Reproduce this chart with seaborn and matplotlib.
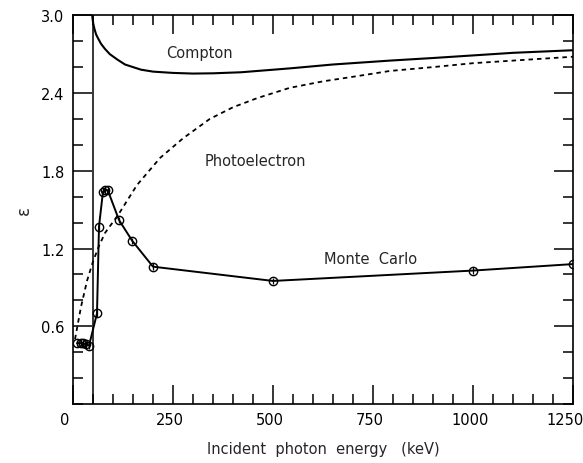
import numpy as np
import pandas as pd
import matplotlib
matplotlib.use("Agg")
import matplotlib.pyplot as plt
from matplotlib.ticker import MultipleLocator, FixedLocator
from matplotlib.transforms import ScaledTranslation
import seaborn as sns

# Monte Carlo points
mc_energy = [10, 20, 25, 32, 40, 60, 65, 75, 81, 87, 115, 148, 200, 500, 1000, 1250]
mc_eps = [0.47, 0.47, 0.47, 0.46, 0.45, 0.70, 1.37, 1.64, 1.65, 1.65, 1.42, 1.26, 1.06, 0.95, 1.03, 1.08]

# Compton curve
compton_energy = [48, 49, 51, 54, 58, 63, 70, 80, 92, 110, 130, 150, 170, 200, 250, 300, 350, 420, 542, 650, 792, 900, 1000, 1100, 1250]
compton_eps = [3.00, 2.97, 2.93, 2.89, 2.85, 2.82, 2.78, 2.74, 2.70, 2.66, 2.62, 2.60, 2.58, 2.565, 2.555, 2.55, 2.552, 2.56, 2.59, 2.62, 2.65, 2.67, 2.69, 2.71, 2.73]

# Photoelectron curve
photo_energy = [5, 20, 35, 50, 65, 80, 113, 160, 218, 275, 342, 400, 460, 542, 625, 710, 792, 900, 1000, 1100, 1250]
photo_eps = [0.50, 0.75, 0.95, 1.10, 1.22, 1.32, 1.46, 1.69, 1.90, 2.05, 2.20, 2.29, 2.36, 2.44, 2.49, 2.53, 2.57, 2.60, 2.63, 2.65, 2.68]

edge_energy = 50

x_ticks = [0, 250, 500, 750, 1000, 1250]
y_ticks = [0.6, 1.2, 1.8, 2.4, 3.0]

sns.set_style("ticks")
plt.rcParams['font.family'] = ['DejaVu Sans']

fig = plt.figure(figsize=(5.83, 4.64), dpi=100)
ax = fig.add_axes([0.1252, 0.127, 0.8576, 0.838])

df_mc = pd.DataFrame({"E": mc_energy, "eps": mc_eps})
df_c = pd.DataFrame({"E": compton_energy, "eps": compton_eps})
df_p = pd.DataFrame({"E": photo_energy, "eps": photo_eps})

sns.lineplot(data=df_c, x="E", y="eps", ax=ax, color="black", lw=1.5, sort=False)
sns.lineplot(data=df_p, x="E", y="eps", ax=ax, color="black", lw=1.3, sort=False,
             linestyle=(0, (2.5, 2.2)))
sns.lineplot(data=df_mc, x="E", y="eps", ax=ax, color="black", lw=1.4, sort=False,
             marker="o", markersize=6, markerfacecolor="none", markeredgecolor="black",
             markeredgewidth=1.0)
ax.errorbar(mc_energy, mc_eps, yerr=0.025, fmt="none", ecolor="black", elinewidth=0.9)
ax.axvline(edge_energy, color="black", lw=1.1)

ax.set_xlim(0, 1250)
ax.set_ylim(0, 3.0)
ax.xaxis.set_major_locator(FixedLocator(x_ticks))
ax.xaxis.set_minor_locator(MultipleLocator(50))
ax.yaxis.set_major_locator(FixedLocator(y_ticks))
ax.yaxis.set_minor_locator(MultipleLocator(0.2))
ax.set_xticklabels([str(t) for t in x_ticks])
ax.set_yticklabels([f"{t:.1f}" for t in y_ticks])
ax.tick_params(which="both", direction="in", top=True, right=True, width=1.1, colors="black",
               labelsize=10.5)
ax.tick_params(which="major", length=14, pad=6)
ax.tick_params(which="minor", length=7)
for s in ax.spines.values():
    s.set_linewidth(1.2)
    s.set_color("black")

# shift x tick labels slightly left like the reference
shifts = [-8, -3, -3, -3, -3, -8]
for lab, dx in zip(ax.get_xticklabels(), shifts):
    lab.set_transform(lab.get_transform() + ScaledTranslation(dx / 100, 0, fig.dpi_scale_trans))

ax.set_xlabel("Incident  photon  energy   (keV)", fontsize=10.5, labelpad=10)
ax.set_ylabel("ε", fontsize=12, labelpad=6)

ax.text(315, 2.71, "Compton", fontsize=10.5, ha="center", va="center")
ax.text(457, 1.88, "Photoelectron", fontsize=10.5, ha="center", va="center")
ax.text(743, 1.12, "Monte  Carlo", fontsize=10.5, ha="center", va="center")

fig.savefig("out.png", dpi=100)
